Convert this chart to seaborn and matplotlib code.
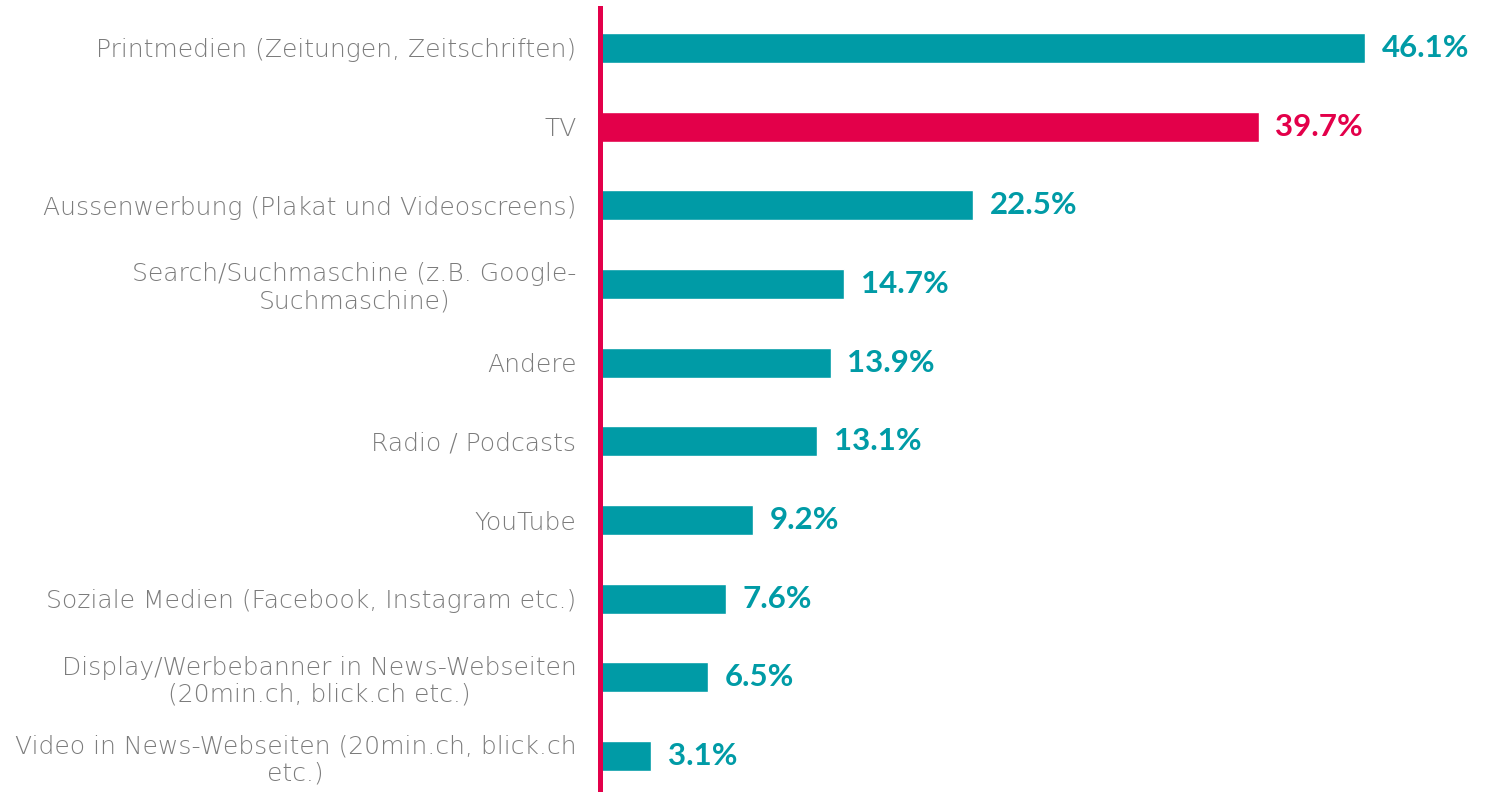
import matplotlib
matplotlib.use("Agg")
import matplotlib.pyplot as plt
import seaborn as sns
import pandas as pd

categories = [
    "Printmedien (Zeitungen, Zeitschriften)",
    "TV",
    "Aussenwerbung (Plakat und Videoscreens)",
    "Search/Suchmaschine (z.B. Google-\nSuchmaschine)",
    "Andere",
    "Radio / Podcasts",
    "YouTube",
    "Soziale Medien (Facebook, Instagram etc.)",
    "Display/Werbebanner in News-Webseiten\n(20min.ch, blick.ch etc.)",
    "Video in News-Webseiten (20min.ch, blick.ch\netc.)",
]
values = [46.1, 39.7, 22.5, 14.7, 13.9, 13.1, 9.2, 7.6, 6.5, 3.1]
highlight = "TV"

TEAL = "#009BA6"
RED = "#E3004A"
GRAY = "#7C7C7C"

sns.set_theme(style="white")
plt.rcParams["font.family"] = ["Lato", "DejaVu Sans"]

df = pd.DataFrame({"cat": categories, "val": values})
colors = {c: (RED if c == highlight else TEAL) for c in categories}

fig = plt.figure(figsize=(14.96, 7.92), dpi=100)
ax = fig.add_axes([600 / 1496, 0.0, 1 - 600 / 1496, 1 - 8 / 792])

sns.barplot(data=df, x="val", y="cat", hue="cat", palette=colors,
            legend=False, width=0.38, ax=ax, saturation=1)

ax.set_xlim(0, 54.0)
ax.set_ylim(9.457, -0.508)
ax.set_xlabel("")
ax.set_ylabel("")
ax.set_xticks([])

for s in ["top", "right", "bottom"]:
    ax.spines[s].set_visible(False)
ax.spines["left"].set_color(RED)
ax.spines["left"].set_linewidth(3.6)

ax.tick_params(axis="y", length=0, pad=17)
ax.set_yticks(range(len(categories)))
ax.set_yticklabels(categories, fontsize=18, color=GRAY,
                   family=["DejaVu Sans"], fontweight="light",
                   multialignment="center", linespacing=1.15)

for i, (c, v) in enumerate(zip(categories, values)):
    ax.annotate(f"{v}%", xy=(v, i), xytext=(12, 0), textcoords="offset points",
                va="center", ha="left", fontsize=22.5, fontweight="bold",
                color=colors[c])

fig.savefig("out.png", dpi=100)
